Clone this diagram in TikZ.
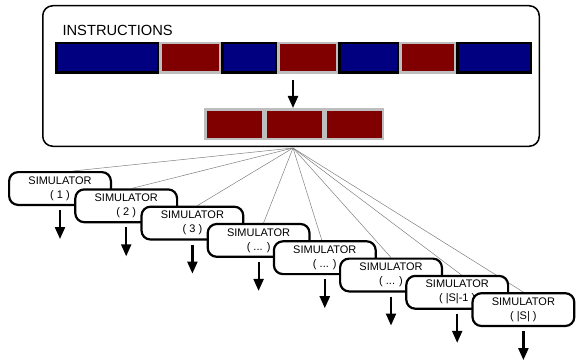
\documentclass[tikz,border=0pt]{standalone}
\usepackage{fontspec}
\setmainfont{Liberation Sans}
\usepackage{xcolor}
\usepackage{tikz}
\usetikzlibrary{arrows.meta, positioning, backgrounds}

\definecolor{instblue}{RGB}{0,0,128}
\definecolor{instred}{RGB}{128,0,0}
\definecolor{segedge}{RGB}{190,190,190}

\begin{document}
\begin{tikzpicture}[x=1pt, y=-1pt,
  frame/.style={draw, rounded corners=10pt, line width=1.5pt, minimum width=496.5pt, minimum height=140.5pt, inner sep=0},
  seg/.style={inner sep=0, line width=2.5pt, minimum height=29.5pt},
  bluebox/.style={seg, fill=instblue, draw=black},
  redbox/.style={seg, fill=instred, draw=segedge},
  sim/.style={draw, fill=white, rounded corners=9pt, line width=2.2pt, minimum width=101.8pt, minimum height=32.8pt, inner sep=0, align=center, font=\fontsize{11}{14}\selectfont},
  arrow/.style={-{Triangle[length=12pt, width=10pt]}, line width=2.2pt},
  fanline/.style={gray, line width=0.5pt}
]
\useasboundingbox (0,0) rectangle (576,361);

% Instruction frame
\node[frame] (frame) at (291,76) {};
\node[anchor=base west, font=\fontsize{14.7}{17}\selectfont] (title) at (59,36) {INSTRUCTIONS};

% Instruction stream
\node[bluebox, minimum width=101.5pt] (b1) at (107,58) {};
\node[bluebox, minimum width=53.5pt] (b2) at (249,58) {};
\node[bluebox, minimum width=58.5pt] (b3) at (368.5,58) {};
\node[bluebox, minimum width=73.5pt] (b4) at (494,58) {};
\node[redbox, minimum width=59.5pt] (r1) at (190,58) {};
\node[redbox, minimum width=58.5pt] (r2) at (307.5,58) {};
\node[redbox, minimum width=54.5pt] (r3) at (427.5,58) {};

% Selected instructions
\coordinate (split) at (293,80);
\node[redbox, minimum width=57.5pt] (m1) at (234,124) {};
\node[redbox, minimum width=57.5pt] (m2) at (294,124) {};
\node[redbox, minimum width=57.5pt] (m3) at (354,124) {};
\draw[arrow] (split) -- (m2.north -| split);

% Simulators
\node[sim] (s1) at (60,188.5) {SIMULATOR\\( 1 )};
\node[sim] (s2) at (126.2,205.8) {SIMULATOR\\( 2 )};
\node[sim] (s3) at (192.4,223.1) {SIMULATOR\\( 3 )};
\node[sim] (s4) at (258.6,240.4) {SIMULATOR\\( ... )};
\node[sim] (s5) at (324.8,257.7) {SIMULATOR\\( ... )};
\node[sim] (s6) at (391,275) {SIMULATOR\\( ... )};
\node[sim] (s7) at (457.2,292.3) {SIMULATOR\\( |S|-1 )};
\node[sim] (s8) at (523.4,309.6) {SIMULATOR\\( |S| )};

% Broadcast to every simulator
\coordinate (hub) at (293,148);
\begin{scope}[on background layer]
\draw[fanline] (hub) -- ([xshift=13pt]s1.north);
\draw[fanline] (hub) -- ([xshift=6pt]s2.north);
\draw[fanline] (hub) -- ([xshift=5pt]s3.north);
\draw[fanline] (hub) -- ([xshift=5pt]s4.north);
\draw[fanline] (hub) -- ([xshift=-3pt]s5.north);
\draw[fanline] (hub) -- (s6.north);
\draw[fanline] (hub) -- ([xshift=4pt]s7.north);
\draw[fanline] (hub) -- (s8.north);
\end{scope}

% Outputs
\draw[arrow] ([yshift=-4pt]s1.south) -- ++(0,29);
\draw[arrow] ([yshift=-4pt]s2.south) -- ++(0,29);
\draw[arrow] ([yshift=-4pt]s3.south) -- ++(0,29);
\draw[arrow] ([yshift=-4pt]s4.south) -- ++(0,29);
\draw[arrow] ([yshift=-4pt]s5.south) -- ++(0,29);
\draw[arrow] ([yshift=-4pt]s6.south) -- ++(0,29);
\draw[arrow] ([yshift=-4pt]s7.south) -- ++(0,29);
\draw[arrow] ([yshift=-4pt]s8.south) -- ++(0,29);

\end{tikzpicture}
\end{document}
